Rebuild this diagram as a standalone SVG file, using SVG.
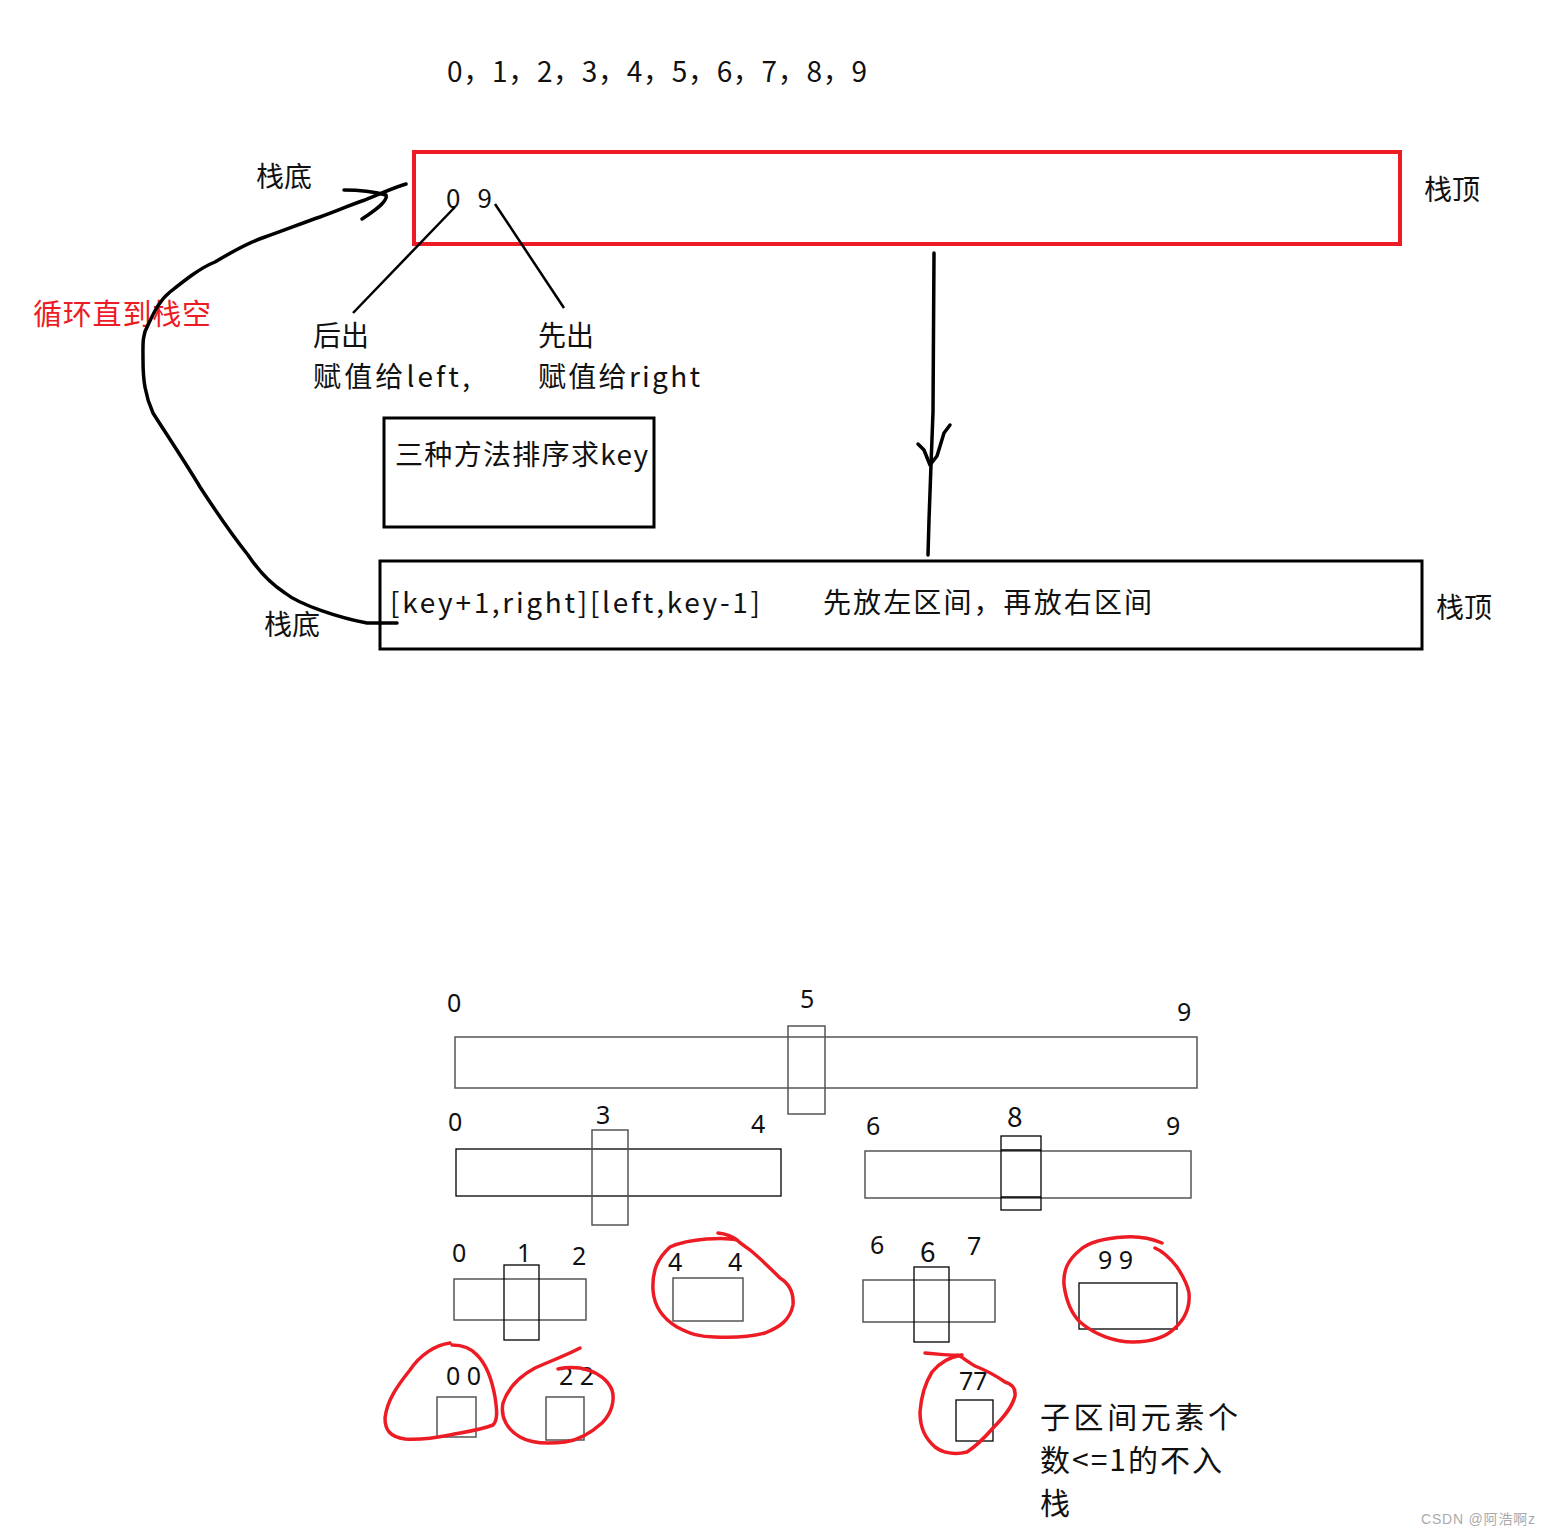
<svg xmlns="http://www.w3.org/2000/svg" width="1551" height="1536" viewBox="0 0 1551 1536">
<style>
.t{font-family:"Noto Sans CJK SC","Liberation Serif",serif;font-size:28px;fill:#111}
.n{font-family:"Noto Sans","Open Sans",sans-serif;font-size:25px;fill:#111}
.red{fill:#ED1C24}
.big{font-size:30px}
.hand{fill:none;stroke:#000;stroke-width:3.5;stroke-linecap:round;stroke-linejoin:round}
.rloop{fill:none;stroke:#ED1C24;stroke-width:3.5;stroke-linecap:round;stroke-linejoin:round}
.g{fill:none;stroke:#555;stroke-width:1.5}
.k{fill:none;stroke:#000;stroke-width:1.3}
</style>
<rect width="1551" height="1536" fill="#fff"/>
<text class="t" x="447" y="82" textLength="420">0，1，2，3，4，5，6，7，8，9</text>

<g id="stack-top">
<rect x="414" y="152" width="986" height="92" fill="none" stroke="#ED1C24" stroke-width="4"/>
<text class="t" x="446" y="208" textLength="46" style="font-size:26px">0 9</text>
</g>
<text class="t" x="256" y="187">栈底</text>
<text class="t" x="1424" y="200">栈顶</text>

<g id="labels">
<text class="t" x="313" y="346">后出</text>
<text class="t" x="313" y="387" textLength="157">赋值给left,</text>
<text class="t" x="538" y="346">先出</text>
<text class="t" x="538" y="387" textLength="162">赋值给right</text>
<text class="t red" x="33" y="325" style="font-size:29px" textLength="178">循环直到栈空</text>
</g>

<g id="key-box">
<rect x="384" y="418" width="270" height="109" fill="none" stroke="#000" stroke-width="3"/>
<text class="t" x="395" y="465" textLength="253">三种方法排序求key</text>
</g>

<g id="stack-bottom">
<rect x="380" y="561" width="1042" height="88" fill="none" stroke="#000" stroke-width="3"/>
<text class="t" x="390" y="613" textLength="370">[key+1,right][left,key-1]</text>
<text class="t" x="823" y="613" textLength="329">先放左区间，再放右区间</text>
</g>
<text class="t" x="1436" y="618">栈顶</text>
<text class="t" x="264" y="635">栈底</text>

<g id="connectors">
<line x1="455" y1="207" x2="353" y2="313" stroke="#000" stroke-width="2.5"/>
<line x1="495" y1="204" x2="564" y2="308" stroke="#000" stroke-width="2.5"/>
<path class="hand" d="M934,253 L933,412 L931,465 L929,520 L928,555"/>
<path class="hand" d="M918,444 L924,450 L930,465 L937,456 L944,433 L950,425"/>
<path class="hand" d="M397,623 L367,623 C340,618 300,605 285,593 C268,582 258,570 248,555 C232,535 215,510 200,487 C185,462 165,432 153,413 C145,395 143,380 143,360 C143,345 142,335 148,325 C155,310 160,300 170,292 C185,280 200,268 215,262 C235,250 250,242 265,237 C285,230 305,222 320,217 C340,210 352,204 365,200 C380,194 395,187 406,184"/>
<path class="hand" d="M344,190 C360,190 375,192 386,195 C388,200 380,207 362,219"/>
</g>

<g id="tree">
<g id="level0">
<rect class="g" x="455" y="1037" width="742" height="51"/>
<rect class="g" x="788" y="1026" width="37" height="88"/>
<text class="n" x="447" y="1012">0</text>
<text class="n" x="800" y="1008">5</text>
<text class="n" x="1177" y="1021">9</text>
</g>
<g id="level1-left">
<rect class="k" x="456" y="1149" width="325" height="47"/>
<rect class="g" x="592" y="1130" width="36" height="95"/>
<text class="n" x="448" y="1131">0</text>
<text class="n" x="596" y="1124">3</text>
<text class="n" x="751" y="1133">4</text>
</g>
<g id="level1-right">
<rect class="g" x="865" y="1151" width="326" height="47"/>
<rect class="k" x="1001" y="1136" width="40" height="74"/>
<line class="k" x1="1001" y1="1150" x2="1041" y2="1150"/>
<line class="k" x1="1001" y1="1197" x2="1041" y2="1197"/>
<text class="n" x="866" y="1135">6</text>
<text class="t" x="1007" y="1127">8</text>
<text class="n" x="1166" y="1135">9</text>
</g>
<g id="level2-012">
<rect class="g" x="454" y="1279" width="132" height="41"/>
<rect class="k" x="504" y="1265" width="35" height="75"/>
<text class="n" x="452" y="1262">0</text>
<text class="n" x="517" y="1262">1</text>
<text class="n" x="572" y="1265">2</text>
</g>
<g id="level2-44">
<rect class="g" x="673" y="1278" width="70" height="43"/>
<text class="n" x="668" y="1271">4</text>
<text class="n" x="728" y="1271">4</text>
<path class="rloop" d="M718,1233 C727,1234 733,1237 737,1240 C725,1237 690,1238 670,1247 C658,1258 652,1270 653,1290 C654,1305 662,1318 677,1327 C690,1334 700,1337 715,1337 C735,1338 750,1337 765,1333 C780,1327 790,1320 793,1305 C794,1292 788,1283 780,1278 C770,1268 760,1258 750,1250 C743,1245 740,1243 737,1240"/>
</g>
<g id="level2-667">
<rect class="g" x="863" y="1280" width="132" height="42"/>
<rect class="k" x="914" y="1267" width="35" height="75"/>
<text class="n" x="870" y="1254">6</text>
<text class="t" x="920" y="1262">6</text>
<text class="n" x="967" y="1255">7</text>
</g>
<g id="level2-99">
<rect class="k" x="1079" y="1283" width="98" height="46"/>
<text class="n" x="1098" y="1269">9 9</text>
<path class="rloop" d="M1162,1243 C1150,1238 1140,1236 1125,1237 C1105,1238 1090,1241 1080,1250 C1068,1260 1063,1270 1064,1285 C1066,1300 1070,1312 1080,1322 C1095,1335 1115,1342 1133,1342 C1150,1342 1165,1338 1175,1328 C1186,1318 1190,1305 1189,1293 C1187,1282 1182,1275 1177,1267 C1170,1258 1162,1251 1155,1248"/>
</g>
<g id="level3-00">
<rect class="g" x="437" y="1397" width="39" height="40"/>
<text class="n" x="446" y="1385">0 0</text>
<path class="rloop" d="M450,1343 C435,1345 420,1355 410,1370 C398,1385 387,1400 385,1418 C385,1430 390,1437 405,1439 C420,1440 435,1438 450,1435 C465,1432 480,1430 493,1425 C498,1420 497,1410 495,1397 C492,1380 487,1365 477,1355 C470,1347 460,1345 452,1345"/>
</g>
<g id="level3-22">
<rect class="g" x="546" y="1397" width="38" height="43"/>
<text class="n" x="559" y="1385">2 2</text>
<path class="rloop" d="M580,1348 C565,1356 548,1362 535,1368 C520,1376 508,1388 503,1403 C500,1418 508,1430 520,1437 C532,1444 548,1444 565,1442 C580,1440 592,1432 602,1423 C612,1413 615,1400 612,1390 C608,1380 598,1373 588,1370 C578,1367 568,1367 558,1369"/>
</g>
<g id="level3-77">
<rect class="k" x="956" y="1400" width="37" height="41"/>
<text class="n" x="959" y="1390">77</text>
<path class="rloop" d="M925,1353 C940,1354 950,1356 962,1355 C950,1357 940,1362 932,1372 C924,1385 921,1398 920,1412 C920,1428 925,1438 935,1447 C943,1453 955,1455 967,1452 C978,1445 986,1436 993,1428 C1003,1418 1012,1408 1015,1396 C1016,1388 1012,1384 1005,1382 C995,1375 985,1370 975,1366 C968,1362 962,1357 958,1355"/>
</g>
</g>

<g id="note">
<text class="t big" x="1040" y="1428" textLength="198">子区间元素个</text>
<text class="t big" x="1040" y="1471" textLength="182">数&lt;=1的不入</text>
<text class="t big" x="1040" y="1514">栈</text>
</g>
<text x="1421" y="1524" font-family="'Liberation Sans','Noto Sans CJK SC',sans-serif" font-size="14" fill="#aaa" textLength="114">CSDN @阿浩啊z</text>
</svg>
